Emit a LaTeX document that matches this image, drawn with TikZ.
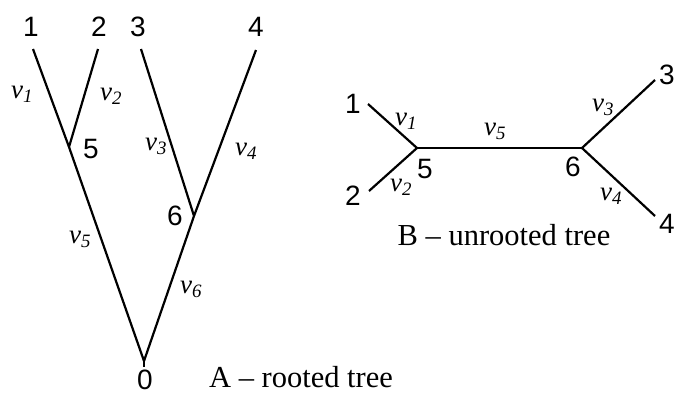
\documentclass[tikz,border=0pt]{standalone}
\usepackage{fontspec}
\setmainfont{Liberation Serif}
\newfontfamily\digitfont{Liberation Sans}
\usetikzlibrary{positioning}

\begin{document}
\begin{tikzpicture}[
  x=1pt, y=-1pt,
  edge/.style={line width=2.2pt, line join=round},
  num/.style={font=\digitfont\fontsize{28}{28}\selectfont, inner sep=0pt},
  wt/.style={font=\fontsize{27}{27}\selectfont\itshape, inner sep=0pt},
  caption/.style={font=\fontsize{30.5}{30.5}\selectfont, inner sep=0pt}
]
\useasboundingbox (0,0) rectangle (675,394);

% A - rooted tree
\coordinate (a1) at (33,49);
\coordinate (a2) at (98,49);
\coordinate (a3) at (141,49);
\coordinate (a4) at (256,50);
\coordinate (a5) at (69,147);
\coordinate (a6) at (194,216);
\coordinate (a0) at (144,361);
\coordinate (a0s) at (144,367);

\draw[edge] (a1) -- (a5) -- (a0) -- (a6) -- (a4);
\draw[edge] (a2) -- (a5);
\draw[edge] (a3) -- (a6);
\draw[edge] (a0) -- (a0s);

\node[num] (la1) at (31,27) {1};
\node[num] (la2) at (99,27) {2};
\node[num] (la3) at (138,27) {3};
\node[num] (la4) at (256,27) {4};
\node[num] (la5) at (91,149) {5};
\node[num] (la6) at (175,216) {6};
\node[num, anchor=north] (la0) at (145,370) {0};

\node[wt] (va1) at (22,94) {v\textsubscript{1}};
\node[wt] (va2) at (111,96) {v\textsubscript{2}};
\node[wt] (va3) at (156,146) {v\textsubscript{3}};
\node[wt] (va4) at (246,151) {v\textsubscript{4}};
\node[wt] (va5) at (80,239) {v\textsubscript{5}};
\node[wt] (va6) at (191,289) {v\textsubscript{6}};

\node[caption, anchor=base] (capa) at (301,387) {A -- rooted tree};

% B - unrooted tree
\coordinate (b1) at (368,104);
\coordinate (b2) at (369,191);
\coordinate (b3) at (655,80);
\coordinate (b4) at (655,216);
\coordinate (b5) at (417,148);
\coordinate (b6) at (582,148);

\draw[edge] (b1) -- (b5) -- (b2);
\draw[edge] (b3) -- (b6) -- (b4);
\draw[edge] (b5) -- (b6);

\node[num] (lb1) at (353,104) {1};
\node[num] (lb2) at (353,196) {2};
\node[num, anchor=west] (lb3) at (659,75) {3};
\node[num, anchor=west] (lb4) at (659,224) {4};
\node[num] (lb5) at (425,169) {5};
\node[num] (lb6) at (573,167) {6};

\node[wt] (vb1) at (406,121) {v\textsubscript{1}};
\node[wt] (vb2) at (401,187) {v\textsubscript{2}};
\node[wt] (vb3) at (603,107) {v\textsubscript{3}};
\node[wt] (vb4) at (611,196) {v\textsubscript{4}};
\node[wt] (vb5) at (495,131) {v\textsubscript{5}};

\node[caption, anchor=base] (capb) at (504,245) {B -- unrooted tree};

\end{tikzpicture}
\end{document}
